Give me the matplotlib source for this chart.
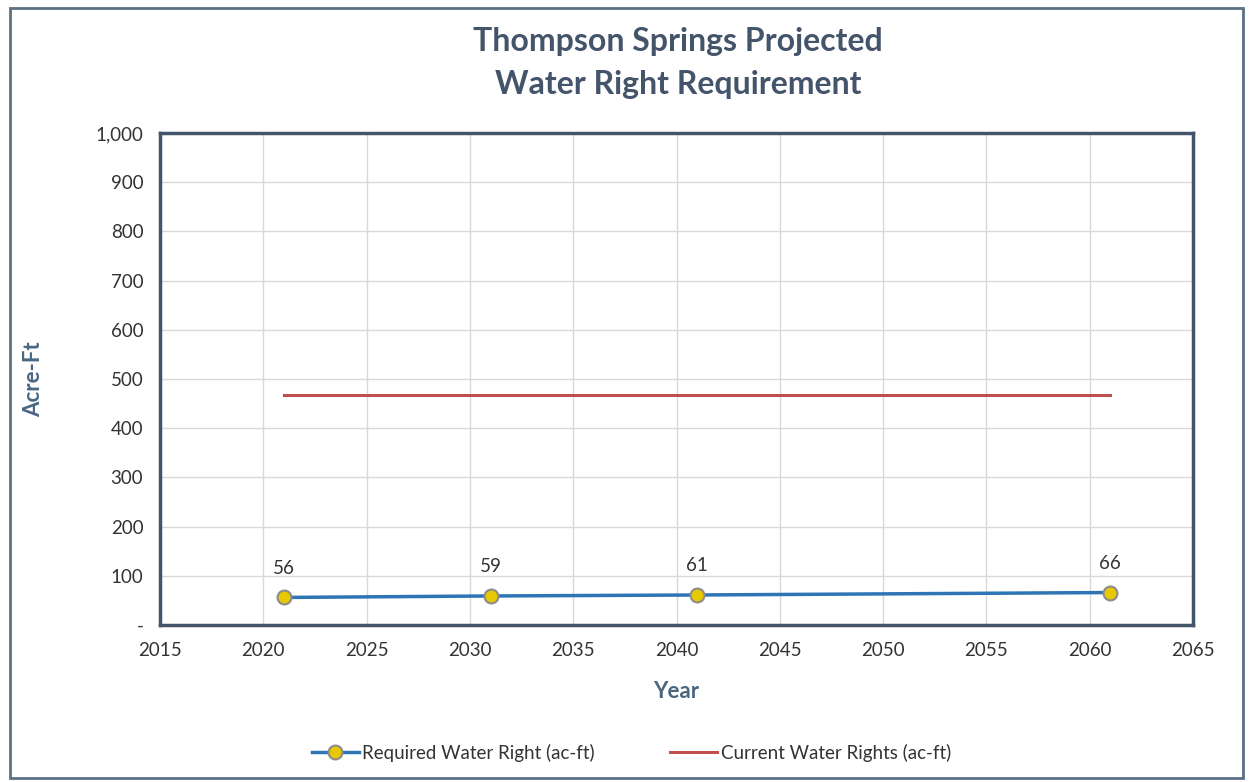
import matplotlib
matplotlib.use("Agg")
import matplotlib.pyplot as plt
from matplotlib.patches import Rectangle
from matplotlib.ticker import FuncFormatter

years = [2021, 2031, 2041, 2061]
required = [56, 59, 61, 66]
current_years = [2021, 2061]
current = [468, 468]

title_color = "#44546A"
plt.rcParams["font.family"] = ["Lato", "DejaVu Sans"]

fig = plt.figure(figsize=(12.5, 7.82), dpi=100)
ax = fig.add_axes([160 / 1250, 1 - 625 / 782, (1193 - 160) / 1250, (625 - 133) / 782])

ax.plot(current_years, current, color="#C0504D", lw=2.2, label="Current Water Rights (ac-ft)", zorder=3)
ax.plot(years, required, color="#2E75B6", lw=2.5, marker="o", markersize=10,
        markerfacecolor="#E8C800", markeredgecolor="#8C8C8C", markeredgewidth=1.5,
        label="Required Water Right (ac-ft)", zorder=4)

for x, y in zip(years, required):
    ax.annotate(str(y), (x, y), xytext=(0, 15), textcoords="offset points",
                ha="center", va="bottom", fontsize=13.5, color="#333333")

ax.set_xlim(2015, 2065)
ax.set_ylim(0, 1000)
ax.set_xticks(range(2015, 2066, 5))
ax.set_yticks(range(0, 1001, 100))
ax.yaxis.set_major_formatter(FuncFormatter(lambda v, p: "-" if v == 0 else f"{int(v):,}"))
ax.tick_params(length=0, labelsize=13.5, labelcolor="#333333", pad=12)
ax.grid(True, color="#D9D9D9", lw=1)
ax.set_axisbelow(True)
for s in ax.spines.values():
    s.set_color("#44546A")
    s.set_linewidth(2.5)

ax.set_xlabel("Year", fontsize=16, fontweight="bold", color="#4A6782", labelpad=16)
ax.set_ylabel("Acre-Ft", fontsize=16, fontweight="bold", color="#4A6782")
ax.yaxis.set_label_coords(-0.112, 0.5)

fig.text(678 / 1250, 1 - 63 / 782, "Thompson Springs Projected\nWater Right Requirement",
         ha="center", va="center", fontsize=23, fontweight="bold", color=title_color,
         linespacing=1.6)

handles, labels = ax.get_legend_handles_labels()
fig.legend(handles[::-1], labels[::-1], loc="center", bbox_to_anchor=(0.505, 1 - 753 / 782),
           ncol=2, frameon=False, fontsize=13.5, handlelength=2.5, columnspacing=4,
           handletextpad=0.2, labelcolor="#333333")

fig.patches.append(Rectangle((10 / 1250, 4 / 782), 1233 / 1250, 770 / 782, transform=fig.transFigure,
                             fill=False, edgecolor="#5B7083", lw=2))

fig.savefig("out.png", dpi=100)
